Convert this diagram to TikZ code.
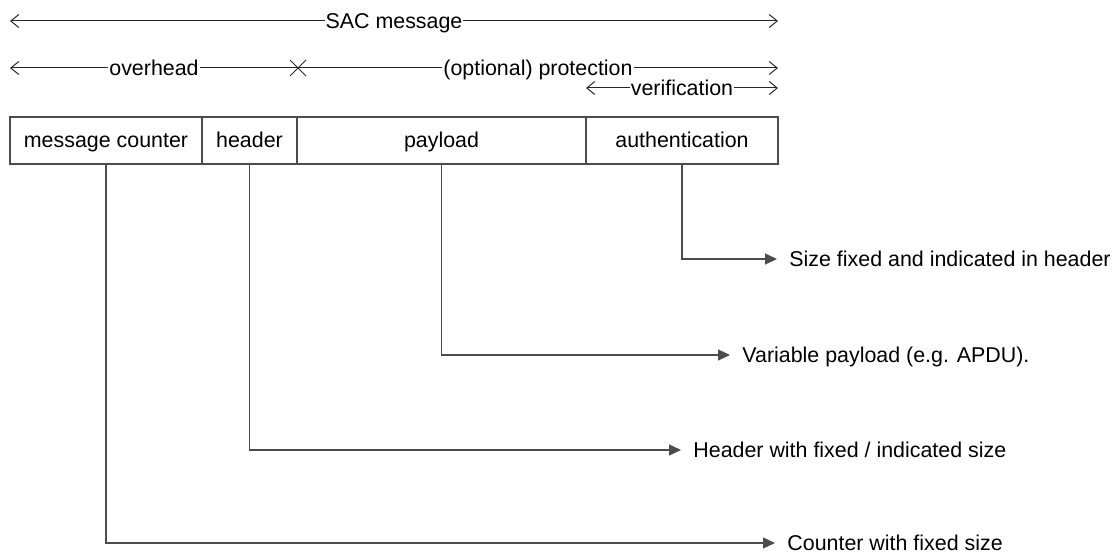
\documentclass[tikz,border=0pt]{standalone}
\usepackage{fontspec}
\setmainfont{Liberation Sans}
\usetikzlibrary{arrows.meta, positioning, shapes.misc}

\begin{document}
\begin{tikzpicture}[
  x=0.5pt, y=-0.5pt,
  txt/.style={font=\fontsize{10.7}{12}\selectfont, text height=0.72em,
    text depth=0pt},
  field/.style={txt, draw=black!70, line width=0.6pt, minimum height=23.5pt,
    inner sep=0pt, outer sep=0pt},
  dim/.style={line width=0.5pt, draw=black!85,
    >={Straight Barb[length=4pt, width=6.5pt]}},
  dimlbl/.style={txt, fill=white, inner xsep=0.5pt, inner ysep=2pt},
  lead/.style={-{Triangle[length=6pt, width=5.5pt]}, line width=0.6pt,
    draw=black!70, shorten >=6pt},
  outlbl/.style={txt, anchor=west, inner sep=0pt},
]
  \useasboundingbox (0,0) rectangle (1117,556);

  % -- Message fields --
  \node[field, minimum width=96pt, anchor=west] (counter) at (10,140.5)
    {message counter};
  \node[field, minimum width=47.5pt, right=0pt of counter] (header) {header};
  \node[field, minimum width=144.5pt, right=0pt of header] (payload) {payload};
  \node[field, minimum width=96pt, right=0pt of payload] (auth)
    {authentication};

  % -- Extent markers --
  \coordinate (sacL) at (10,21);
  \coordinate (sacR) at (778,21);
  \coordinate (ovL) at (10,68);
  \coordinate (ovR) at (778,68);
  \coordinate (verL) at (586,88);
  \coordinate (verR) at (778,88);
  \node[draw=black!85, cross out, minimum size=7.5pt, inner sep=0pt,
    line width=0.5pt] (split) at (298,68) {};

  \draw[dim, <->] (sacL) -- node[dimlbl] (sacLbl) {SAC message} (sacR);
  \draw[dim, <-] (ovL) -- node[dimlbl] (ovLbl) {overhead} (split.center);
  \draw[dim, ->] (split.center) -- node[dimlbl] (protLbl)
    {(optional) protection} (ovR);
  \draw[dim, <->] (verL) -- node[dimlbl] (verLbl) {verification} (verR);

  % -- Field descriptions --
  \node[outlbl] (authOut) at (789,259) {Size fixed and indicated in header};
  \node[outlbl] (payOut) at (742,355) {Variable payload (e.g. APDU).};
  \node[outlbl] (hdrOut) at (693,450) {Header with fixed / indicated size};
  \node[outlbl] (cntOut) at (787,543) {Counter with fixed size};

  \draw[lead] (auth.south) |- (authOut.west);
  \draw[lead] (payload.south) |- (payOut.west);
  \draw[lead] (header.south) |- (hdrOut.west);
  \draw[lead] (counter.south) |- (cntOut.west);
\end{tikzpicture}
\end{document}
